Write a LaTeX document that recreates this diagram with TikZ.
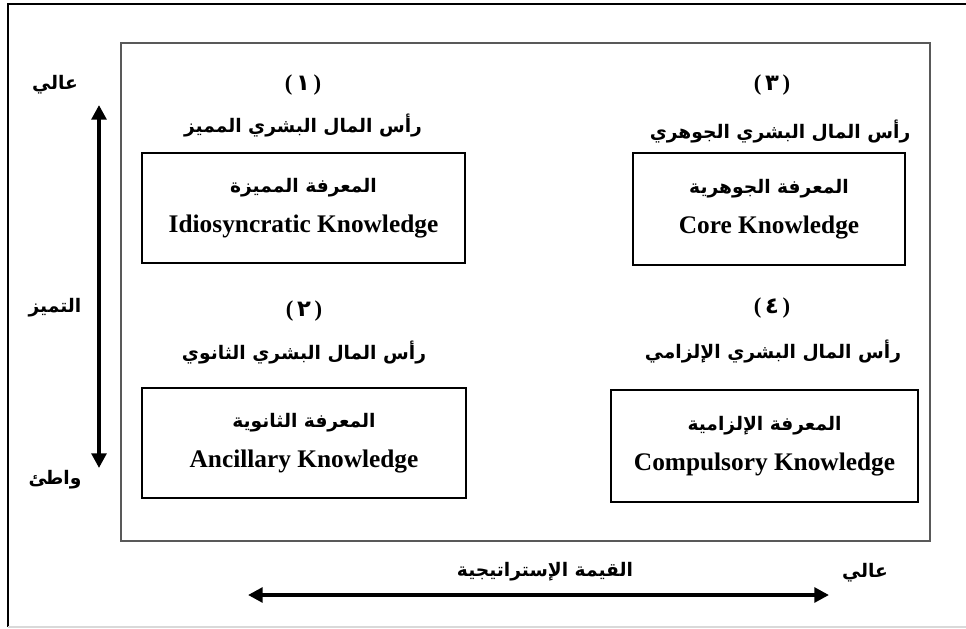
\documentclass[tikz,border=0pt]{standalone}
\usepackage{fontspec}
\setmainfont{Liberation Serif}
\newfontfamily\arabicfont[Script=Arabic]{DejaVu Sans}
\TeXXeTstate=1
\usetikzlibrary{arrows.meta,positioning}
\newcommand{\artxt}[1]{{\arabicfont\bfseries\beginR #1\endR}}
\newcommand{\quadnum}[1]{(\,{\arabicfont\bfseries #1}\,)}

\begin{document}
\begin{tikzpicture}[x=0.75pt, y=-0.75pt,
    knowbox/.style 2 args={draw, line width=1.1pt, align=center,
        minimum width=#1*0.75pt, minimum height=#2*0.75pt,
        font=\bfseries\fontsize{19}{30}\selectfont},
    numlabel/.style={font=\bfseries\fontsize{17}{18}\selectfont},
    titlelabel/.style={font=\fontsize{14}{18}\selectfont},
    sidelabel/.style={font=\fontsize{14}{17}\selectfont},
    axisarrow/.style={line width=3pt, {Triangle[length=11pt,width=11pt]}-{Triangle[length=11pt,width=11pt]}}]
    \useasboundingbox (0,0) rectangle (966,628);

    % Rahmen
    \draw[line width=1.2pt] (8,627) -- (8,4) -- (966,4);
    \draw[gray!30, line width=1pt] (8,627) -- (966,627);
    \draw[gray!70!black, line width=1.4pt] (121,43) rectangle (930,541);

    % Quadrant 1
    \node[numlabel] (num1) at (303,85) {\quadnum{١}};
    \node[titlelabel] (title1) at (303,126) {\artxt{رأس المال البشري المميز}};
    \node[knowbox={323}{110}] (box1) at (303.5,208)
        {\artxt{\fontsize{14}{18}\selectfont المعرفة المميزة}\\Idiosyncratic Knowledge};

    % Quadrant 2
    \node[numlabel] (num2) at (304,311) {\quadnum{٢}};
    \node[titlelabel] (title2) at (304,353) {\artxt{رأس المال البشري الثانوي}};
    \node[knowbox={324}{110}] (box2) at (304,443)
        {\artxt{\fontsize{14}{18}\selectfont المعرفة الثانوية}\\Ancillary Knowledge};

    % Quadrant 3
    \node[numlabel] (num3) at (772,85) {\quadnum{٣}};
    \node[titlelabel] (title3) at (780,132) {\artxt{رأس المال البشري الجوهري}};
    \node[knowbox={272}{112}] (box3) at (769,209)
        {\artxt{\fontsize{14}{18}\selectfont المعرفة الجوهرية}\\Core Knowledge};

    % Quadrant 4
    \node[numlabel] (num4) at (772,308) {\quadnum{٤}};
    \node[titlelabel] (title4) at (773,352) {\artxt{رأس المال البشري الإلزامي}};
    \node[knowbox={307}{112}] (box4) at (764.5,446)
        {\artxt{\fontsize{14}{18}\selectfont المعرفة الإلزامية}\\Compulsory Knowledge};

    % Achse: Tamayyuz
    \node[sidelabel] (high1) at (55,85) {\artxt{عالي}};
    \node[sidelabel] (axis1) at (55,308) {\artxt{التميز}};
    \node[sidelabel] (low1) at (55,480) {\artxt{واطئ}};
    \coordinate (vtop) at (99,105);
    \coordinate (vbot) at (99,468);
    \draw[axisarrow] (vtop) -- (vbot);

    % Achse: strategischer Wert
    \node[sidelabel] (axis2) at (545,572) {\artxt{القيمة الإستراتيجية}};
    \node[sidelabel] (high2) at (865,573) {\artxt{عالي}};
    \coordinate (hleft) at (248,595);
    \coordinate (hright) at (829,595);
    \draw[axisarrow] (hleft) -- (hright);
\end{tikzpicture}
\end{document}
